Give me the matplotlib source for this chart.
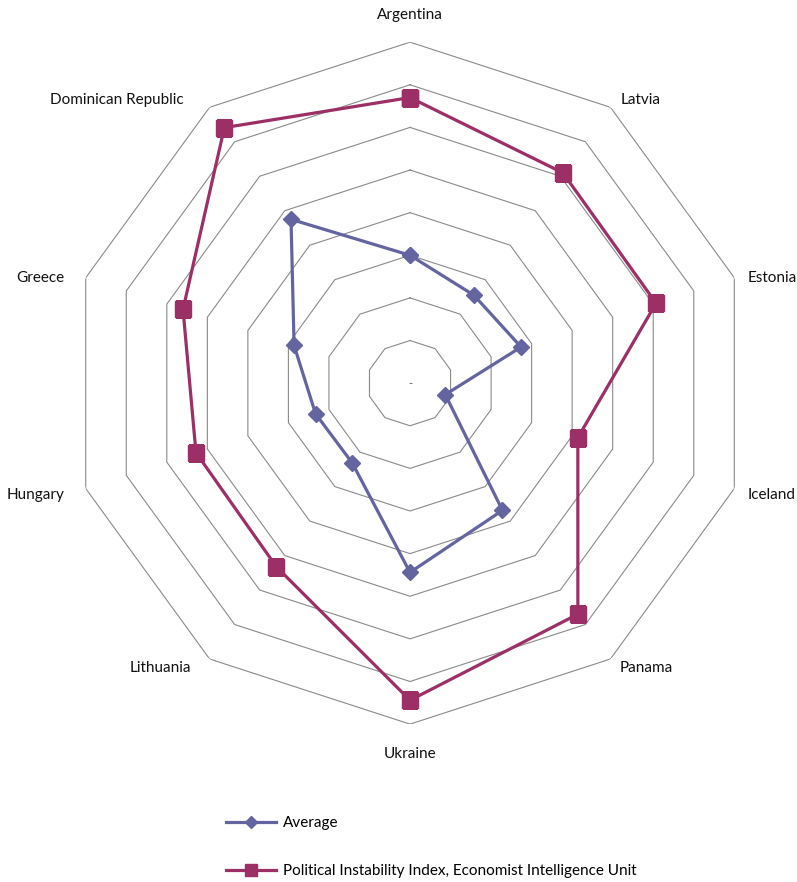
import numpy as np
import matplotlib
matplotlib.use("Agg")
import matplotlib.pyplot as plt

plt.rcParams['font.family'] = ['Lato', 'DejaVu Sans']

countries = ['Argentina', 'Latvia', 'Estonia', 'Iceland', 'Panama', 'Ukraine',
             'Lithuania', 'Hungary', 'Greece', 'Dominican Republic']
average = [3.0, 2.55, 2.74, 0.87, 3.69, 4.44, 2.31, 2.33, 2.86, 4.75]
pii = [6.7, 6.1, 6.07, 4.14, 6.7, 7.44, 5.33, 5.28, 5.6, 7.41]
rings = [1, 2, 3, 4, 5, 6, 7, 8]

# label offsets from the outer vertex, in pixels
label_dx = [0, 10, 13, 13, 9, 0, -18, -21, -21, -26]
label_dy = [27, 7, 0, -6, -9, -30, -9, -6, 0, 7]

blue = '#6464A0'
red = '#9B2F66'
grid_col = '#8A8A8A'

n = len(countries)
theta = np.arange(n) * 2 * np.pi / n
theta_c = np.append(theta, theta[0])

fig = plt.figure(figsize=(7.97, 8.82), dpi=100)
ax = fig.add_axes([0.0866, 0.179, 0.8557, 0.7732], projection='polar')
ax.set_theta_zero_location('N')
ax.set_theta_direction(-1)
ax.set_ylim(0, 8)
ax.grid(False)
ax.spines['polar'].set_visible(False)
ax.set_xticks([])
ax.set_yticks([])

for r in rings:
    ax.plot(theta_c, [r] * (n + 1), color=grid_col, lw=0.8, zorder=1)

ax.text(0, 0, '-', ha='center', va='center', fontsize=8, color='#555555')

l1, = ax.plot(theta_c, average + average[:1], color=blue, lw=2.3, marker='D',
              markersize=8, zorder=3, label='Average')
l2, = ax.plot(theta_c, pii + pii[:1], color=red, lw=2.3, marker='s',
              markersize=11, zorder=4,
              label='Political Instability Index, Economist Intelligence Unit')

for t, name, dx, dy in zip(theta, countries, label_dx, label_dy):
    if dx > 0:
        ha = 'left'
    elif dx < 0:
        ha = 'right'
    else:
        ha = 'center'
    ax.annotate(name, xy=(t, 8), xytext=(dx, dy), textcoords='offset pixels',
                ha=ha, va='center', fontsize=11, color='#111111')

fig.legend(handles=[l1, l2], loc='upper left', bbox_to_anchor=(0.276, 0.0814),
           frameon=False, fontsize=11, handlelength=3.3, numpoints=1,
           markerscale=0.8, labelspacing=2.2, handletextpad=0.4,
           borderaxespad=0)

fig.savefig('out.png', dpi=100)
